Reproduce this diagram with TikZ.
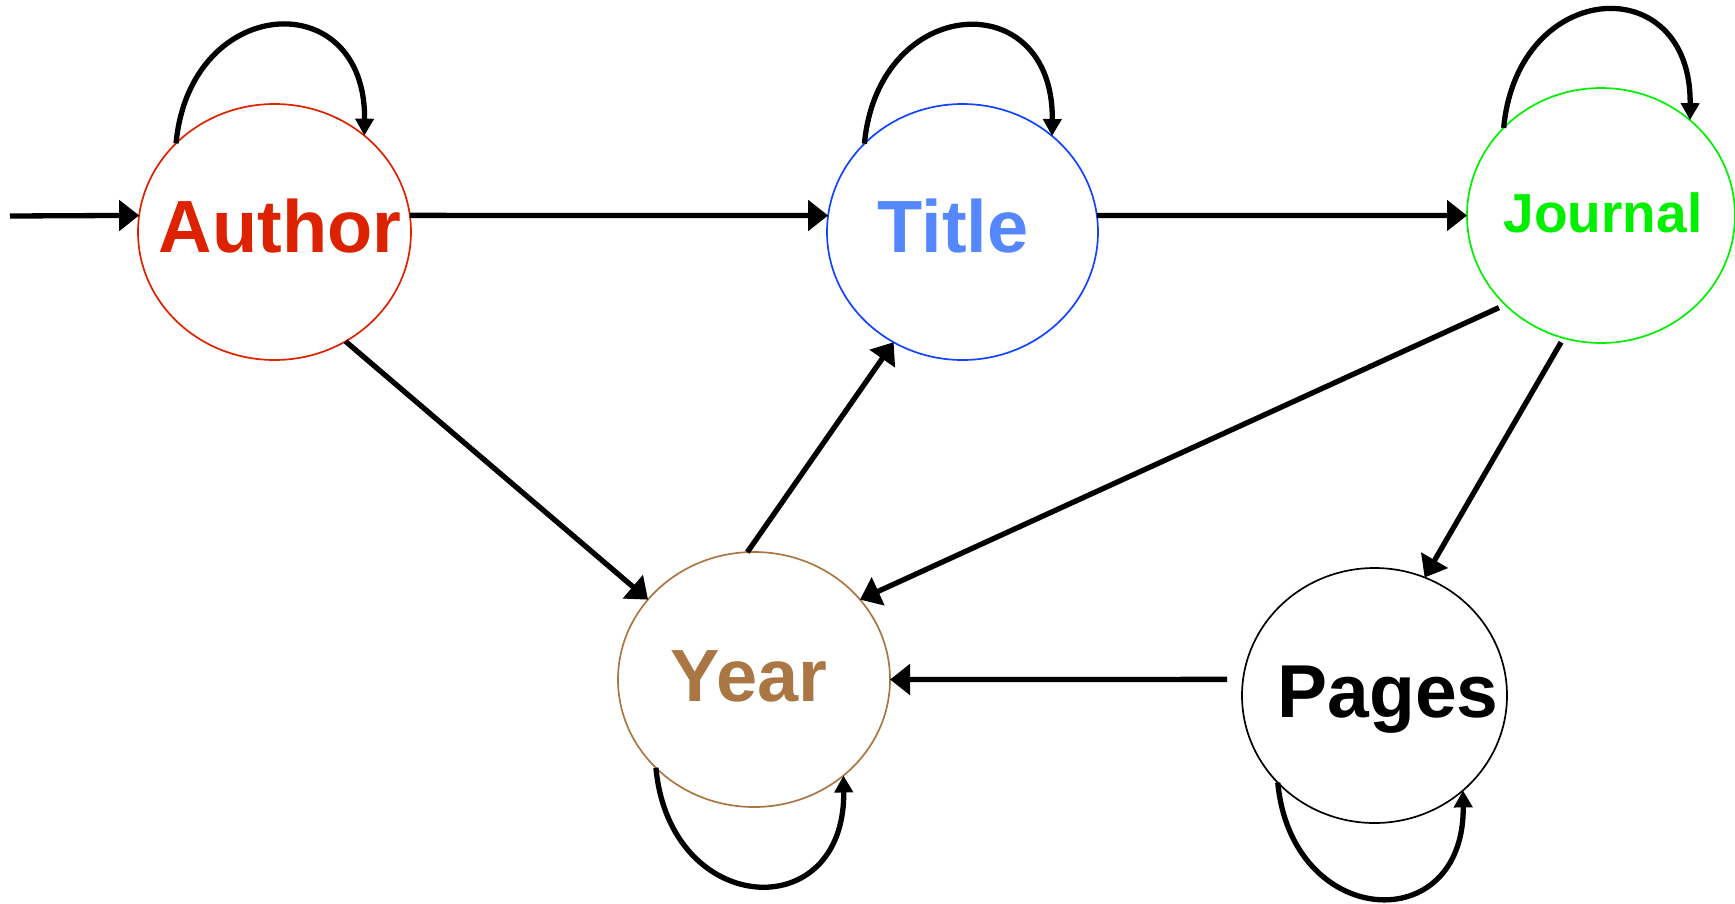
\documentclass[tikz,border=0pt]{standalone}
\usepackage{fontspec}
\setmainfont{Liberation Sans}
\usetikzlibrary{arrows.meta,shapes.geometric}
\definecolor{authred}{HTML}{DD2200}
\definecolor{titleblue}{HTML}{5588FF}
\definecolor{titleline}{HTML}{1144FF}
\definecolor{jgreen}{HTML}{00F000}
\definecolor{ybrown}{HTML}{AA7744}
\begin{document}
\begin{tikzpicture}[x=1pt,y=1pt,
  state/.style={ellipse, draw, line width=1.7pt, inner sep=0pt, outer sep=0pt},
  lab/.style={anchor=base, font=\bfseries\fontsize{74}{80}\selectfont},
  edge/.style={line width=5.3pt, -{Triangle[length=20pt,width=30pt]}},
  selfloop/.style={line width=5.3pt, -{Triangle[length=17pt,width=18pt]}}]
\useasboundingbox (0,0) rectangle (1735,-903);
\node[state, draw=authred, minimum width=273pt, minimum height=256pt] (A) at (274.5,-232) {};
\node[state, draw=titleline, minimum width=271pt, minimum height=256pt] (T) at (962.5,-232) {};
\node[state, draw=jgreen, minimum width=268pt, minimum height=255pt] (J) at (1601,-215.5) {};
\node[state, draw=ybrown, minimum width=272pt, minimum height=255pt] (Y) at (754,-679.5) {};
\node[state, draw=black, minimum width=265pt, minimum height=255pt] (P) at (1374.5,-695.5) {};
\node[lab, text=authred] (Al) at (280,-252) {Author};
\node[lab, text=titleblue] (Tl) at (953,-252) {Title};
\node[lab, text=jgreen, font=\bfseries\fontsize{55}{60}\selectfont] (Jl) at (1603,-232) {Journal};
\node[lab, text=ybrown] (Yl) at (749,-701) {Year};
\node[lab, text=black, font=\bfseries\fontsize{75}{80}\selectfont] (Pl) at (1388,-717) {Pages};
\coordinate (start) at (10,-216);
% self loops
\draw[selfloop] (A.138) .. controls +(14,150) and +(2,152) .. (A.47);
\draw[selfloop] (T.138) .. controls +(14,150) and +(2,152) .. (T.47);
\draw[selfloop] (J.138) .. controls +(14,150) and +(2,152) .. (J.47);
\draw[selfloop] (Y.-138) .. controls +(14,-150) and +(2,-152) .. (Y.-47);
\draw[selfloop] (P.-138) .. controls +(14,-147) and +(2,-149) .. (P.-47);
% edges
\draw[edge] (start) -- (A.173);
\draw[edge] (A.7) -- (T.173);
\draw[edge] (T.7) -- (J.180);
\draw[edge] (A.-57) -- (Y.143);
\draw[edge] (Y.93) -- (T.238);
\draw[edge, shorten <=7pt] (J.-137) -- (Y.37);
\draw[edge, shorten <=5pt] (J.-107) -- (P.67);
\draw[edge, shorten <=16pt] (P.173) -- (Y.0);
\end{tikzpicture}
\end{document}
